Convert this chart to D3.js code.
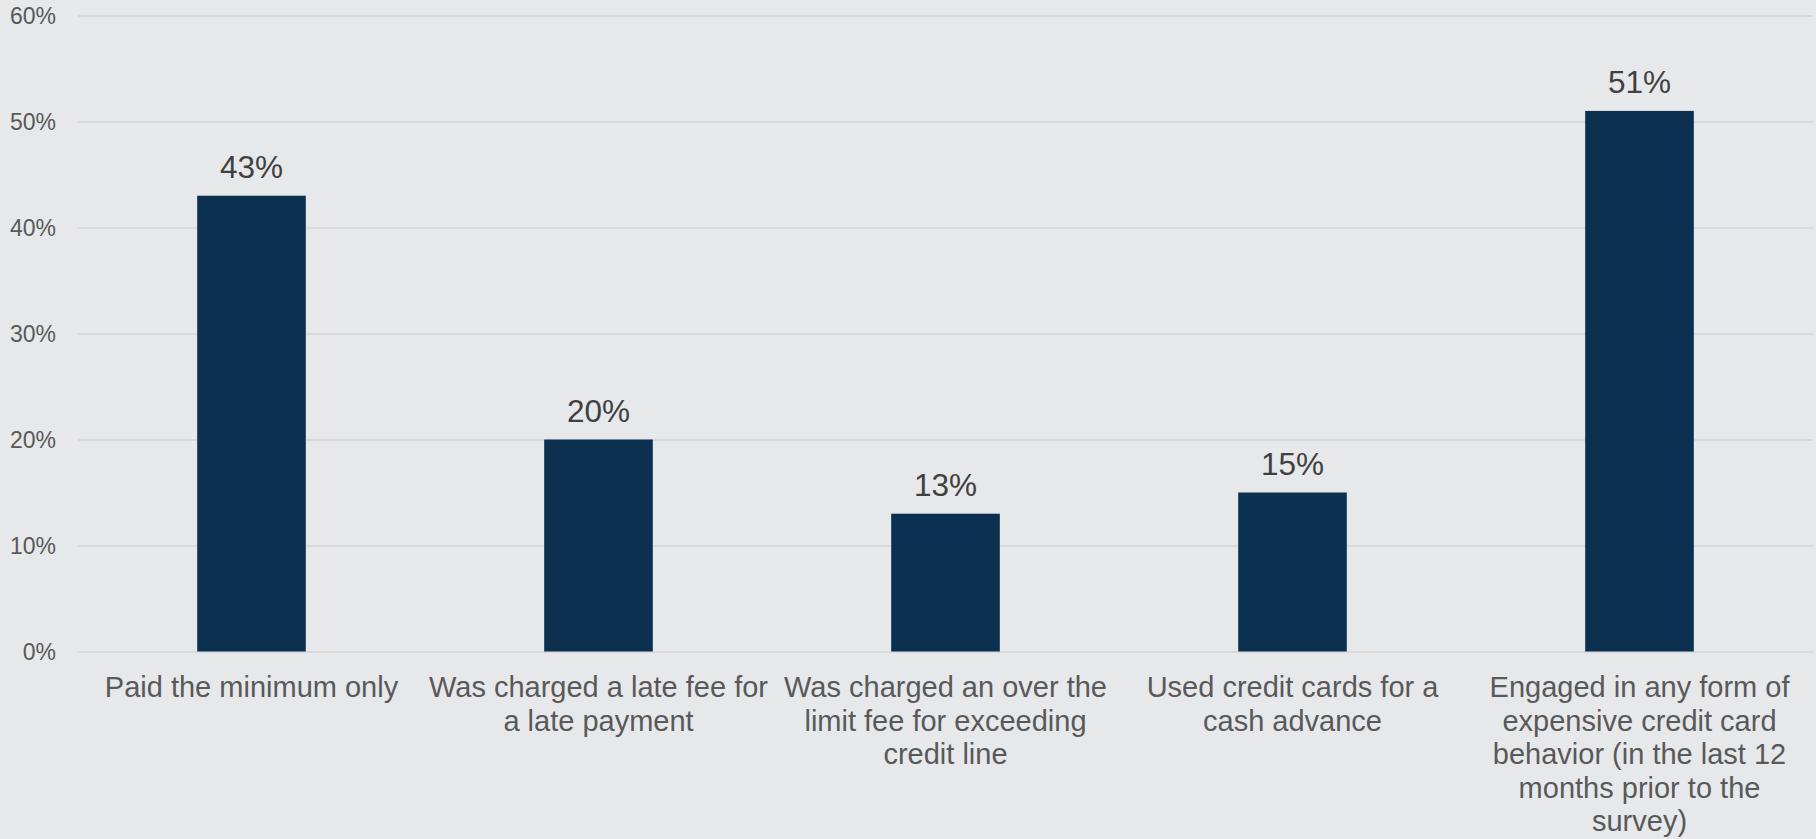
<!DOCTYPE html>
<html>
<head>
<meta charset="utf-8">
<script src="https://cdn.jsdelivr.net/npm/d3@7"></script>
<style>
  html, body { margin: 0; padding: 0; background: #e7e8ea; }
  svg { display: block; }
  text { font-family: "Liberation Sans", Arial, sans-serif; }
</style>
</head>
<body>
<svg id="chart" width="1816" height="839"></svg>
<script>
const categories = [
  "Paid the minimum only",
  "Was charged a late fee for\na late payment",
  "Was charged an over the\nlimit fee for exceeding\ncredit line",
  "Used credit cards for a\ncash advance",
  "Engaged in any form of\nexpensive credit card\nbehavior (in the last 12\nmonths prior to the\nsurvey)"
];
const values = [43, 20, 13, 15, 51];
const yTicks = [0, 10, 20, 30, 40, 50, 60];

const W = 1816, H = 839;
const margin = { left: 78, right: 3, top: 15.5, bottom: 187.5 };
const svg = d3.select("#chart");

svg.append("rect").attr("width", W).attr("height", H).attr("fill", "#e7e8ea");

const x = d3.scaleBand()
  .domain(categories)
  .range([margin.left, W - margin.right])
  .paddingInner(0.687)
  .paddingOuter(0.3435);

const y = d3.scaleLinear()
  .domain([0, 60])
  .range([H - margin.bottom, margin.top]);

// gridlines
const yAxis = d3.axisLeft(y)
  .tickValues(yTicks)
  .tickSize(-(W - margin.right - margin.left))
  .tickFormat(d => d + "%");

const gy = svg.append("g")
  .attr("transform", `translate(${margin.left},0)`)
  .call(yAxis);
gy.select(".domain").remove();
gy.selectAll(".tick line").attr("stroke", "#d5d6d9").attr("stroke-width", 1.5);
gy.selectAll(".tick text")
  .attr("x", -22)
  .attr("dy", "0.36em")
  .attr("fill", "#595959")
  .style("font-size", "23px")
  .attr("text-anchor", "end");

// bars
svg.append("g").selectAll("rect")
  .data(values)
  .join("rect")
  .attr("x", (d, i) => x(categories[i]))
  .attr("width", x.bandwidth())
  .attr("y", d => y(d))
  .attr("height", d => y(0) - y(d))
  .attr("fill", "#0b3050");

// value labels
svg.append("g").selectAll("text")
  .data(values)
  .join("text")
  .attr("x", (d, i) => x(categories[i]) + x.bandwidth() / 2)
  .attr("y", d => y(d) - 18)
  .attr("text-anchor", "middle")
  .attr("fill", "#404040")
  .style("font-size", "31.5px")
  .text(d => d + "%");

// category labels
const gx = svg.append("g");
categories.forEach((c, i) => {
  const t = gx.append("text")
    .attr("text-anchor", "middle")
    .attr("fill", "#595959")
    .style("font-size", "29px")
    .attr("transform", `translate(${x(c) + x.bandwidth() / 2},${y(0) + 45.5})`);
  c.split("\n").forEach((line, j) => {
    t.append("tspan").attr("x", 0).attr("y", j * 33.5).text(line);
  });
});
</script>
</body>
</html>
